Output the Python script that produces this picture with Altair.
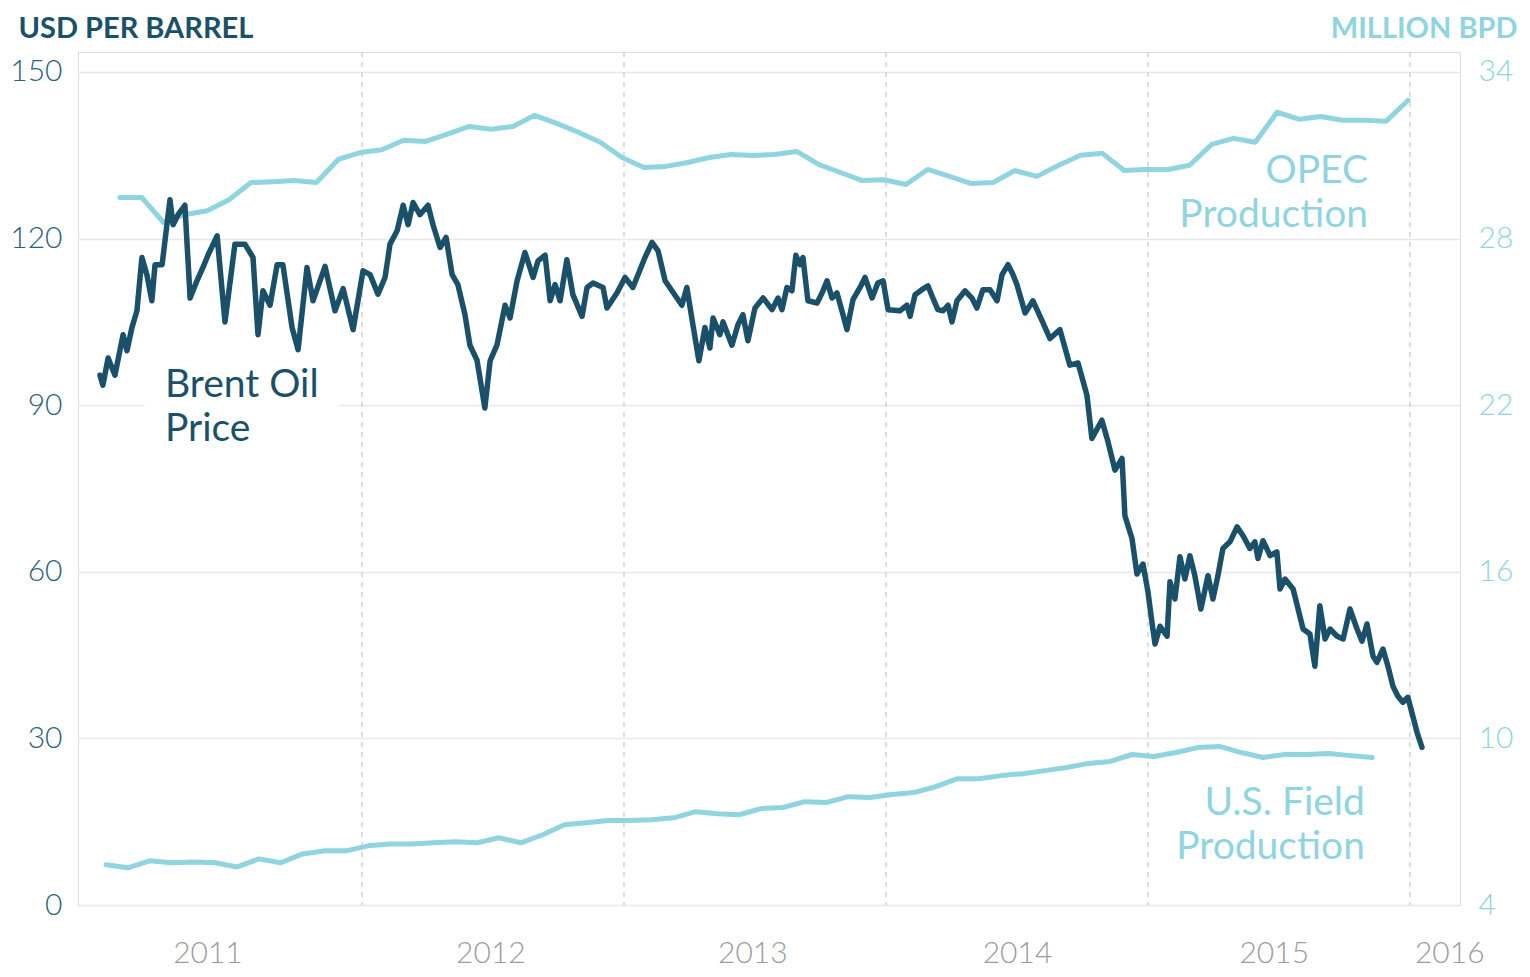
import altair as alt
import pandas as pd

# ---------------- data ----------------
# Brent oil price (USD per barrel); time given as decimal year
brent_year = [
    2011.000, 2011.011, 2011.031, 2011.057, 2011.088, 2011.103, 2011.122, 2011.141, 2011.160, 2011.179,
    2011.198, 2011.210, 2011.237, 2011.267, 2011.279, 2011.298, 2011.324, 2011.344, 2011.370, 2011.393,
    2011.412, 2011.447, 2011.477, 2011.515, 2011.553, 2011.584, 2011.603, 2011.622, 2011.649, 2011.676,
    2011.698, 2011.733, 2011.756, 2011.790, 2011.813, 2011.859, 2011.897, 2011.928, 2011.966, 2012.004,
    2012.031, 2012.061, 2012.088, 2012.107, 2012.134, 2012.157, 2012.176, 2012.195, 2012.221, 2012.252,
    2012.271, 2012.298, 2012.321, 2012.344, 2012.366, 2012.393, 2012.412, 2012.439, 2012.469, 2012.489,
    2012.515, 2012.546, 2012.565, 2012.592, 2012.622, 2012.653, 2012.672, 2012.699, 2012.718, 2012.737,
    2012.756, 2012.782, 2012.805, 2012.840, 2012.859, 2012.882, 2012.920, 2012.935, 2012.973, 2013.004,
    2013.034, 2013.080, 2013.107, 2013.130, 2013.157, 2013.183, 2013.202, 2013.221, 2013.240, 2013.263,
    2013.286, 2013.309, 2013.328, 2013.340, 2013.366, 2013.378, 2013.412, 2013.435, 2013.454, 2013.473,
    2013.500, 2013.531, 2013.565, 2013.588, 2013.603, 2013.622, 2013.641, 2013.656, 2013.672, 2013.683,
    2013.702, 2013.737, 2013.756, 2013.775, 2013.794, 2013.813, 2013.836, 2013.851, 2013.874, 2013.901,
    2013.920, 2013.947, 2013.969, 2013.989, 2014.008, 2014.053, 2014.080, 2014.092, 2014.111, 2014.137,
    2014.160, 2014.179, 2014.198, 2014.218, 2014.237, 2014.252, 2014.271, 2014.302, 2014.328, 2014.347,
    2014.370, 2014.397, 2014.424, 2014.443, 2014.466, 2014.485, 2014.500, 2014.531, 2014.561, 2014.596,
    2014.626, 2014.664, 2014.702, 2014.733, 2014.767, 2014.786, 2014.824, 2014.847, 2014.874, 2014.901,
    2014.912, 2014.939, 2014.958, 2014.981, 2015.000, 2015.015, 2015.027, 2015.046, 2015.073, 2015.084,
    2015.103, 2015.122, 2015.141, 2015.160, 2015.179, 2015.202, 2015.229, 2015.248, 2015.267, 2015.286,
    2015.313, 2015.340, 2015.363, 2015.389, 2015.408, 2015.420, 2015.439, 2015.466, 2015.492, 2015.504,
    2015.523, 2015.554, 2015.573, 2015.592, 2015.618, 2015.637, 2015.656, 2015.676, 2015.695, 2015.722,
    2015.745, 2015.771, 2015.798, 2015.817, 2015.836, 2015.859, 2015.874, 2015.897, 2015.916, 2015.935,
    2015.954, 2015.973, 2015.992, 2016.011, 2016.027, 2016.046,
]
brent_usd = [
    95.4, 93.6, 98.5, 95.4, 102.7, 99.8, 104.0, 107.0, 116.6, 113.5,
    108.8, 115.3, 115.3, 127.0, 122.5, 124.3, 126.0, 109.3, 112.4, 114.8,
    117.0, 120.5, 105.0, 119.0, 119.0, 116.6, 102.7, 110.6, 108.0, 115.3,
    115.3, 104.0, 100.0, 114.8, 108.8, 115.0, 107.0, 111.0, 103.6, 114.2,
    113.5, 110.0, 113.0, 119.0, 121.4, 126.0, 122.5, 126.5, 124.3, 126.0,
    122.5, 118.4, 120.2, 113.5, 111.7, 106.3, 100.8, 98.1, 89.5, 98.0,
    100.8, 108.0, 105.7, 112.4, 117.5, 113.0, 116.0, 117.0, 108.8, 111.7,
    108.8, 116.2, 109.9, 106.0, 111.2, 112.0, 111.2, 107.5, 110.2, 113.0,
    111.2, 116.6, 119.3, 117.8, 112.4, 110.6, 109.3, 108.0, 111.2, 104.5,
    98.0, 104.0, 100.3, 105.7, 102.7, 105.0, 100.8, 104.5, 106.3, 101.6,
    107.5, 109.3, 107.2, 109.3, 107.2, 111.2, 110.6, 117.0, 115.3, 116.6,
    108.8, 108.4, 110.2, 112.4, 109.3, 110.2, 106.3, 103.6, 109.0, 111.2,
    113.0, 109.3, 112.0, 112.4, 107.2, 107.0, 108.0, 106.0, 109.9, 110.8,
    111.5, 109.3, 107.2, 107.0, 108.0, 105.0, 108.8, 110.6, 109.3, 107.5,
    110.8, 110.8, 108.8, 113.5, 115.3, 113.5, 111.7, 106.6, 108.8, 105.2,
    102.0, 103.6, 97.2, 97.6, 91.8, 84.0, 87.3, 83.5, 78.3, 80.4,
    70.1, 66.0, 59.6, 61.4, 56.4, 51.0, 47.0, 50.2, 48.4, 58.2,
    55.1, 62.7, 58.7, 62.9, 59.3, 53.3, 59.3, 55.1, 59.3, 64.2,
    65.4, 68.1, 66.5, 64.2, 65.4, 62.4, 65.6, 62.9, 63.6, 56.9,
    58.7, 56.9, 53.3, 49.7, 48.8, 43.0, 53.9, 47.9, 49.7, 48.4,
    47.9, 53.3, 49.7, 47.5, 50.6, 44.8, 43.7, 46.1, 43.0, 39.4,
    37.6, 36.5, 37.4, 34.0, 31.1, 28.4,
]

# OPEC production, million bpd, monthly Jan 2011 - Dec 2015 (plotted at month end)
opec_mbpd = [
    29.48, 29.48, 28.58, 28.87, 29.00, 29.40, 30.02, 30.05, 30.09, 30.02,
    30.85, 31.10, 31.20, 31.54, 31.50, 31.76, 32.04, 31.94, 32.04, 32.44,
    32.15, 31.83, 31.47, 30.92, 30.56, 30.60, 30.74, 30.92, 31.03, 30.99,
    31.03, 31.14, 30.67, 30.38, 30.09, 30.12, 29.95, 30.49, 30.24, 29.98,
    30.02, 30.45, 30.24, 30.64, 31.00, 31.07, 30.45, 30.49, 30.49, 30.64,
    31.39, 31.61, 31.47, 32.55, 32.30, 32.40, 32.26, 32.26, 32.23, 32.98,
]
# U.S. field production, million bpd, monthly Jan 2011 - Nov 2015
us_field_mbpd = [
    5.45, 5.34, 5.59, 5.52, 5.55, 5.52, 5.37, 5.66, 5.52, 5.84,
    5.95, 5.95, 6.13, 6.20, 6.20, 6.24, 6.28, 6.24, 6.42, 6.24,
    6.53, 6.89, 6.96, 7.04, 7.04, 7.07, 7.14, 7.36, 7.29, 7.25,
    7.47, 7.51, 7.72, 7.69, 7.90, 7.87, 7.98, 8.05, 8.26, 8.55,
    8.55, 8.66, 8.73, 8.84, 8.95, 9.10, 9.17, 9.42, 9.35, 9.49,
    9.67, 9.71, 9.49, 9.31, 9.42, 9.42, 9.46, 9.38, 9.31,
]

year_labels = [2011, 2012, 2013, 2014, 2015, 2016]
year_label_pos = [2011.41, 2012.49, 2013.49, 2014.50, 2015.48, 2016.15]
year_starts = [2012, 2013, 2014, 2015, 2016]
usd_ticks = [0, 30, 60, 90, 120, 150]
mbpd_ticks = [4, 10, 16, 22, 28, 34]

# ---------------- tables ----------------
def monthly_positions(n, offset):
    months = pd.period_range("2011-01", periods=n, freq="M")
    return [m.year + (m.month - 1) / 12 + offset for m in months]

brent_df = pd.DataFrame({"t": brent_year, "v": brent_usd})
opec_df = pd.DataFrame({"t": monthly_positions(len(opec_mbpd), 0.076), "m": opec_mbpd})
us_df = pd.DataFrame({"t": monthly_positions(len(us_field_mbpd), 0.023), "m": us_field_mbpd})
rules_df = pd.DataFrame({"t": year_starts})
brent_lbl = pd.DataFrame({"t": [2011.248], "v": [91.5], "label": ["Brent Oil\nPrice"]})
prod_lbl = pd.DataFrame({"t": [2015.840, 2015.828], "v": [130.0, 16.2],
                         "label": ["OPEC\nProduction", "U.S. Field\nProduction"]})
mask_df = pd.DataFrame({"t": [2011.17], "t2": [2011.91], "v": [84.0], "v2": [96.5]})

# ---------------- styling ----------------
FONT = "Lato"
DARK = "#1a5069"
LIGHT = "#8fd4df"
LEFT_LBL = "#2f627a"
GRAY = "#9c9c9c"

X_DOMAIN = [2010.916, 2016.191]


def X(field="t"):
    return alt.X(
        f"{field}:Q",
        scale=alt.Scale(domain=X_DOMAIN, nice=False, zero=False),
        axis=alt.Axis(
            values=year_label_pos,
            labelExpr="'' + floor(datum.value)",
            grid=False, domain=False, ticks=False,
            labelFont=FONT, labelFontSize=30, labelFontWeight=300,
            labelColor=GRAY, labelPadding=33,
            labelFlush=False, labelOverlap=False, title=None,
        ),
    )


LEFT_SCALE = alt.Scale(domain=[0, 153.6], nice=False, zero=False)
LEFT_AXIS = alt.Axis(
    orient="left", values=usd_ticks, grid=True, gridColor="#e8e8e8", gridWidth=1.6,
    domain=False, ticks=False,
    labelFont=FONT, labelFontSize=30, labelFontWeight=300, labelColor=LEFT_LBL, labelPadding=16,
    title="USD PER BARREL", titleAngle=0, titleAlign="left", titleBaseline="alphabetic",
    titleX=-60, titleY=-15, titleFont=FONT, titleFontSize=29, titleFontWeight="bold",
    titleColor=DARK,
)
RIGHT_SCALE = alt.Scale(domain=[4, 34.72], nice=False, zero=False)
RIGHT_AXIS = alt.Axis(
    orient="right", values=mbpd_ticks, grid=False, domain=False, ticks=False,
    labelFont=FONT, labelFontSize=30, labelFontWeight=300, labelColor=LIGHT, labelPadding=18,
    title="MILLION BPD", titleAngle=0, titleAlign="right", titleBaseline="alphabetic",
    titleX=57, titleY=-15, titleFont=FONT, titleFontSize=29, titleFontWeight="bold",
    titleColor=LIGHT,
)


def YL(field="v"):
    return alt.Y(f"{field}:Q", scale=LEFT_SCALE, axis=LEFT_AXIS)


def YR(field="m"):
    return alt.Y(f"{field}:Q", scale=RIGHT_SCALE, axis=RIGHT_AXIS)


# ---------------- layers ----------------
rules = alt.Chart(rules_df).mark_rule(
    color="#cccccc", strokeWidth=1.3, strokeDash=[5, 5]
).encode(x=X())

opec_line = alt.Chart(opec_df).mark_line(
    color=LIGHT, strokeWidth=5, strokeJoin="round", strokeCap="round"
).encode(x=X(), y=YR())
us_line = alt.Chart(us_df).mark_line(
    color=LIGHT, strokeWidth=5, strokeJoin="round", strokeCap="round"
).encode(x=X(), y=YR())

right_layer = alt.layer(opec_line, us_line)

mask = alt.Chart(mask_df).mark_rect(color="white").encode(
    x=X(), x2="t2:Q", y=YL(), y2="v2:Q"
)
brent_line = alt.Chart(brent_df).mark_line(
    color=DARK, strokeWidth=5.5, strokeJoin="round", strokeCap="round"
).encode(x=X(), y=YL())
brent_text = alt.Chart(brent_lbl).mark_text(
    align="left", baseline="alphabetic", font=FONT, fontSize=39, lineHeight=44,
    lineBreak="\n", color=DARK,
).encode(x=X(), y=YL(), text="label:N")
prod_text = alt.Chart(prod_lbl).mark_text(
    align="right", baseline="alphabetic", font=FONT, fontSize=39, lineHeight=44,
    lineBreak="\n", color=LIGHT,
).encode(x=X(), y=YL(), text="label:N")

left_layer = alt.layer(mask, brent_line, brent_text, prod_text)

chart = (
    alt.layer(rules, right_layer, left_layer)
    .resolve_scale(y="independent")
    .properties(
        width=1382, height=853,
        autosize=alt.AutoSizeParams(type="none"),
        padding={"left": 70, "top": 44, "right": 60, "bottom": 64},
    )
    .configure_view(stroke=None)
    .configure(background="white")
)

chart.save("out.html", embed_options={"renderer": "svg", "actions": False})
